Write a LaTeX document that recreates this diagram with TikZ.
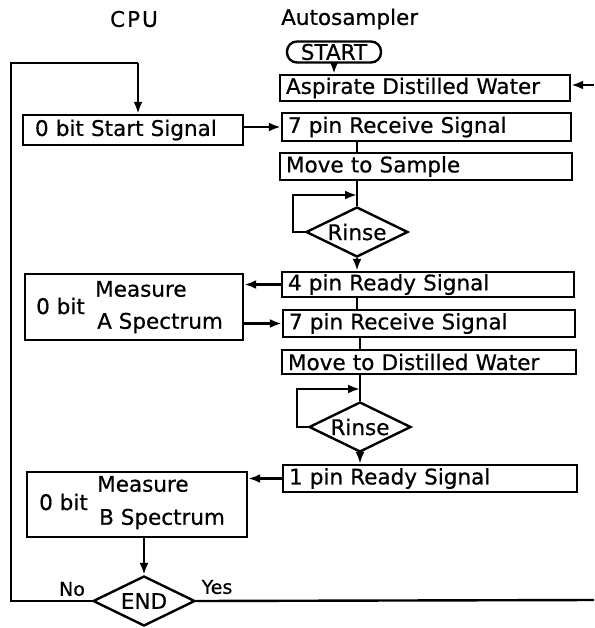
\documentclass[tikz,border=0pt]{standalone}
\usepackage{fontspec}
\setmainfont{DejaVu Sans}[FakeBold=0.6]
\usetikzlibrary{arrows.meta,shapes.geometric}
\begin{document}
\begin{tikzpicture}[x=1pt,y=-1pt,
  every node/.style={font=\fontsize{21.5}{24}\selectfont},
  ln/.style={line width=2.4pt},
  arr/.style={ln,-{Latex[length=12pt,width=9pt]}},
  box/.style={draw,line width=2.4pt,inner xsep=6pt,inner ysep=0pt,align=left},
  mbox/.style={draw,line width=2.4pt,inner sep=0pt},
  dia/.style={draw,line width=2.4pt,diamond,aspect=2,inner sep=0pt,minimum width=102pt,minimum height=50pt},
  lab/.style={inner sep=0pt},
  small/.style={inner sep=0pt,font=\fontsize{19}{22}\selectfont}]
\useasboundingbox (0,0) rectangle (594,628);

\node[lab] (cpu) at (134,19) {C\kern2pt P\kern2pt U};
\node[lab,anchor=west] (auto) at (281,19) {Autosampler};

\node[draw,line width=2.4pt,rounded corners=10pt,minimum width=94pt,minimum height=21pt,inner sep=0pt] (start) at (334,52) {START};
\node[box,minimum height=26pt,text width=278pt] (asp) at (425,88) {Aspirate Distilled Water};
\node[box,minimum height=30pt,inner xsep=12pt,text width=196pt] (sb) at (133,130) {0 bit Start Signal};
\node[box,minimum height=28pt,text width=277pt] (r1) at (426.5,127) {7 pin Receive Signal};
\node[box,minimum height=27pt,text width=280pt] (ms) at (426,166.5) {Move to Sample};
\node[dia] (ri1) at (357,232) {Rinse};
\node[box,minimum height=25pt,text width=280pt] (p4) at (428,284.5) {4 pin Ready Signal};

\node[mbox,minimum width=218pt,minimum height=66pt] (ma) at (134,307) {};
\node[lab,anchor=west] (ma1) at (95,289) {Measure};
\node[lab,anchor=west] (ma0) at (36,306) {0 bit};
\node[lab,anchor=west] (ma2) at (97,323) {A Spectrum};

\node[box,minimum height=27pt,text width=280pt] (r2) at (429,323.5) {7 pin Receive Signal};
\node[box,minimum height=24pt,text width=282pt] (md) at (429,362) {Move to Distilled Water};
\node[dia] (ri2) at (360,427) {Rinse};
\node[box,minimum height=27pt,text width=282pt] (p1) at (430,478.5) {1 pin Ready Signal};

\node[mbox,minimum width=220pt,minimum height=65pt] (mb) at (137,504.5) {};
\node[lab,anchor=west] (mb1) at (97,484) {Measure};
\node[lab,anchor=west] (mb0) at (39,502) {0 bit};
\node[lab,anchor=west] (mb2) at (99,519) {B Spectrum};

\node[dia] (fin) at (144,601) {END};
\node[small] (no) at (72,589) {No};
\node[small] (yes) at (217,587) {Yes};

% connectors
\coordinate (rin) at (594,85);
\draw[arr] (rin) -- (rin -| asp.east);
\draw[arr] (start.south) -- (start.south |- asp.north);
\coordinate (tl) at (11,63);
\coordinate (tr) at (138,63);
\draw[ln] (fin.west) -| (tl) -- (tr);
\draw[arr] (tr) -- (tr |- sb.north);
\draw[arr] (sb.east |- r1.west) -- (r1.west);
\draw[ln] (r1.south -| ri1.north) -- (ms.north -| ri1.north);
\draw[ln] (ms.south -| ri1.north) -- (ri1.north);
\coordinate (l1) at (293,195);
\draw[arr] (ri1.west) -| (l1) -- (l1 -| ri1.north);
\draw[arr] (ri1.south) -- (ri1.south |- p4.north);
\draw[arr] (p4.west) -- (p4.west -| ma.east);
\draw[ln] (p4.south -| ri1.north) -- (r2.north -| ri1.north);
\draw[arr] (ma.east |- r2.west) -- (r2.west);
\draw[ln] (r2.south -| ri2.north) -- (md.north -| ri2.north);
\draw[ln] (md.south -| ri2.north) -- (ri2.north);
\coordinate (l2) at (297,389);
\draw[arr] (ri2.west) -| (l2) -- (l2 -| ri2.north);
\draw[arr] (ri2.south) -- (ri2.south |- p1.north);
\draw[arr] (p1.west) -- (p1.west -| mb.east);
\draw[arr] (mb.south -| fin.north) -- (fin.north);
\coordinate (rout) at (594,600);
\draw[ln] (fin.east) -- (rout);
\end{tikzpicture}
\end{document}
